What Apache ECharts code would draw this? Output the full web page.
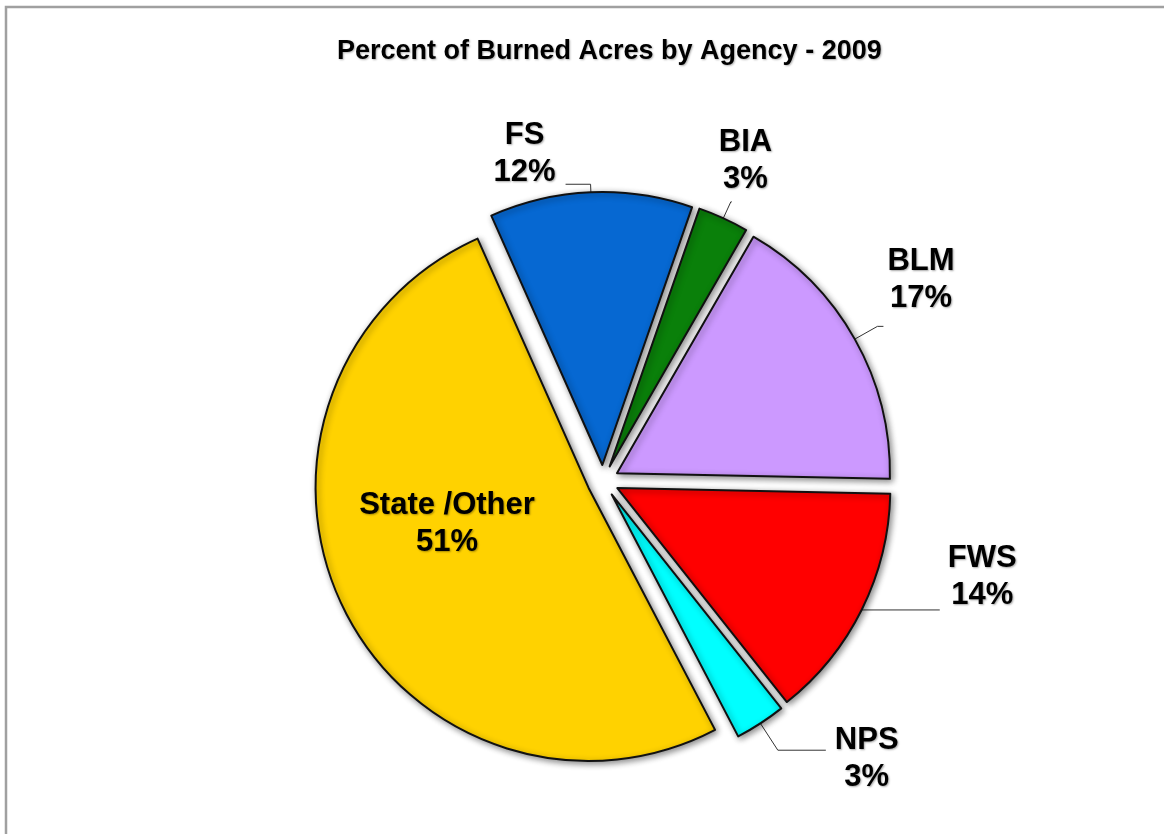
<!DOCTYPE html>
<html>
<head>
<meta charset="utf-8">
<script src="https://cdn.jsdelivr.net/npm/echarts@6/dist/echarts.min.js"></script>
<style>
html,body{margin:0;padding:0;background:#fff;}
#chart{width:1164px;height:834px;}
</style>
</head>
<body>
<div id="chart"></div>
<script>
// ---- data ----
var categories = ['FS', 'BIA', 'BLM', 'FWS', 'NPS', 'State /Other'];
var percentValues = [12, 3, 17, 14, 3, 51];
var sliceColors = ['#0668D2', '#0A800A', '#CC99FF', '#FF0000', '#00FFFF', '#FFD200'];
var chartTitle = 'Percent of Burned Acres by Agency - 2009';

// per-label placement tweaks (line lengths, distance, padding)
var labelTweaks = [
  { length: 8, length2: 25, dist: 10, padding: [0, 0, 60, 0] },
  { length: 18, length2: 1, dist: -13, padding: [0, 0, 82, 0] },
  { length: 26, length2: 6, dist: 4, padding: [0, 0, 92, 0] },
  { length: 1, length2: 77, dist: 8, padding: [0, 0, 66, 0] },
  { length: 32, length2: 48, dist: 9, padding: [17, 0, 0, 0] },
  { inside: true, padding: [0, 32, 50, 0] }
];

var labelFont = {
  fontFamily: 'Liberation Sans, Arial, sans-serif',
  fontWeight: 'bold',
  fontSize: 31,
  lineHeight: 37,
  color: '#000',
  align: 'center',
  textShadowColor: 'rgba(0,0,0,0.35)',
  textShadowBlur: 2,
  textShadowOffsetX: 1,
  textShadowOffsetY: 1
};

var pieData = categories.map(function (name, i) {
  var t = labelTweaks[i];
  var item = {
    name: name,
    value: percentValues[i],
    selected: true,
    itemStyle: { color: sliceColors[i] },
    label: {
      position: t.inside ? 'inside' : 'outside',
      padding: t.padding,
      distanceToLabelLine: t.dist || 0
    }
  };
  if (!t.inside) {
    item.labelLine = { show: true, length: t.length, length2: t.length2 };
  }
  return item;
});

var chart = echarts.init(document.getElementById('chart'), null, { renderer: 'canvas' });
chart.setOption({
  animation: false,
  backgroundColor: '#ffffff',
  title: {
    text: chartTitle,
    left: 337,
    top: 38,
    padding: 0,
    textStyle: {
      fontFamily: 'Liberation Sans, Arial, sans-serif',
      fontWeight: 'bold',
      fontSize: 27,
      color: '#000',
      textShadowColor: 'rgba(0,0,0,0.3)',
      textShadowBlur: 2,
      textShadowOffsetX: 1,
      textShadowOffsetY: 1
    }
  },
  graphic: [{
    type: 'rect',
    silent: true,
    shape: { x: 6, y: 7, width: 1300, height: 1000 },
    style: { fill: 'none', stroke: '#a0a0a0', lineWidth: 2.5 }
  }],
  series: [{
    type: 'pie',
    center: [603, 481],
    radius: [0, 273],
    startAngle: 114,
    clockwise: true,
    avoidLabelOverlap: false,
    selectedMode: 'multiple',
    selectedOffset: 16,
    emphasis: { disabled: true },
    itemStyle: {
      borderColor: '#111',
      borderWidth: 2,
      shadowBlur: 6,
      shadowColor: 'rgba(0,0,0,0.45)',
      shadowOffsetX: 2,
      shadowOffsetY: 2
    },
    label: {
      show: true,
      formatter: function (p) {
        return '{t|' + p.name + '}\n{t|' + p.value + '%}';
      },
      rich: { t: labelFont }
    },
    labelLine: {
      show: true,
      lineStyle: { color: '#333', width: 1 }
    },
    data: pieData
  }]
});
</script>
</body>
</html>
